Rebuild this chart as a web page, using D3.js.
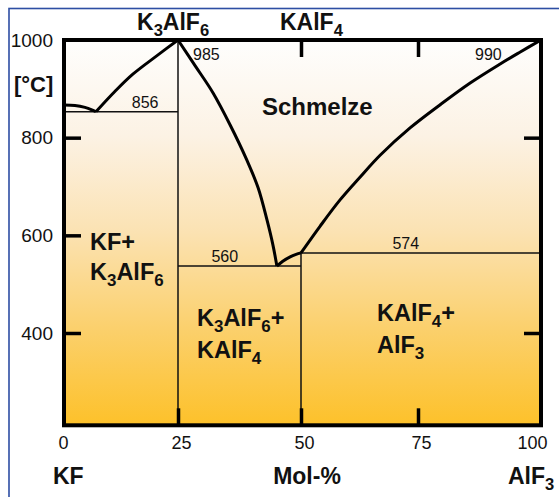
<!DOCTYPE html>
<html><head><meta charset="utf-8">
<script src="https://cdn.jsdelivr.net/npm/d3@7"></script>
<style>body{margin:0;background:#fff} svg{display:block} text{font-family:"Liberation Sans",Arial,Helvetica,sans-serif;fill:#111}</style>
</head><body><svg id="c" width="559" height="497"></svg>
<script>
// ---- data ----
const molTicks = [0, 25, 50, 75, 100];
const tempTicks = [1000, 800, 600, 400];
const tempTicksRight = [800, 400];
const topTicks = [50, 75];
const bottomTicks = [25, 50, 75];
const tMin = 211, tMax = 1000;
const kfArc = [[0, 867], [2.4, 866], [4.6, 862], [6.1, 857], [7, 853]];
const liqK3Left = [[7, 853], [11.2, 895], [15.1, 930], [20.4, 968], [25, 1000]];
const liqK3Right = [[25, 1000], [28.5, 947], [32.1, 892], [35.6, 826], [39, 754], [41.3, 697], [43.1, 631], [44.3, 580], [45.1, 537]];
const liqKAlF4 = [[45.1, 537], [46.3, 547], [47.8, 556], [49, 561], [50, 564]];
const liqAlF3 = [[50, 564], [54.1, 619], [58.3, 672], [62.6, 719], [66.9, 764], [73.3, 820], [79.7, 869], [85.6, 912], [91.7, 951], [95.7, 975], [100, 1000]];
const isotherms = [{t: 853, x0: 0, x1: 25}, {t: 537, x0: 25, x1: 50}, {t: 564, x0: 50, x1: 100}];
const isothermLabels = ["856", "560", "574"];
const compoundLines = [{x: 25, t0: tMin, t1: tMax}, {x: 50, t0: tMin, t1: 564}];
const meltLabels = ["985", "990"];
const compoundNames = ["K_3AlF_6", "KAlF_4"];
const regionNames = ["Schmelze", "KF+", "K_3AlF_6", "K_3AlF_6+", "KAlF_4", "KAlF_4+", "AlF_3"];
const axisNames = ["KF", "Mol-%", "AlF_3", "[°C]"];

(function () {
const svg = d3.select("#c");
const x = d3.scaleLinear().domain([0, 25, 50, 75, 100]).range([64, 178, 301, 418, 541]);
const y = d3.scaleLinear().domain([400, 1000]).range([333, 40]);
const X0 = x(0), X1 = x(100), Y0 = y(tMax), Y1 = y(tMin);

svg.append("rect").attr("x", 9).attr("y", 8.5).attr("width", 700).attr("height", 700)
  .attr("fill", "none").attr("stroke", "#2d4ea3").attr("stroke-width", 1.6);

const defs = svg.append("defs");
const g = defs.append("linearGradient").attr("id", "bg").attr("gradientUnits", "userSpaceOnUse")
  .attr("x1", 0).attr("x2", 0).attr("y1", Y0).attr("y2", Y1);
[[0, "#fefefd"], [0.25, "#fcf2e4"], [0.5, "#fbe2b2"], [0.75, "#fbd06c"], [1, "#fdc12a"]]
  .forEach(([o, c]) => g.append("stop").attr("offset", o).attr("stop-color", c));
svg.append("rect").attr("x", X0).attr("y", Y0).attr("width", X1 - X0).attr("height", Y1 - Y0).attr("fill", "url(#bg)");

svg.selectAll(".iso").data(isotherms).join("line")
  .attr("x1", d => x(d.x0)).attr("x2", d => x(d.x1)).attr("y1", d => y(d.t)).attr("y2", d => y(d.t))
  .attr("stroke", "#111").attr("stroke-width", 1.5);
svg.selectAll(".cmp").data(compoundLines).join("line")
  .attr("x1", d => x(d.x)).attr("x2", d => x(d.x)).attr("y1", d => y(d.t0)).attr("y2", d => y(d.t1))
  .attr("stroke", "#111").attr("stroke-width", 1.5);

const line = d3.line().x(d => x(d[0])).y(d => y(d[1])).curve(d3.curveCatmullRom.alpha(0.5));
[kfArc, liqK3Left, liqK3Right, liqKAlF4, liqAlF3].forEach(arr =>
  svg.append("path").attr("d", line(arr)).attr("fill", "none").attr("stroke", "#000")
    .attr("stroke-width", 3).attr("stroke-linejoin", "round"));

svg.append("rect").attr("x", X0).attr("y", Y0).attr("width", X1 - X0).attr("height", Y1 - Y0)
  .attr("fill", "none").attr("stroke", "#000").attr("stroke-width", 4);

function styleAxis(sel) {
  sel.select(".domain").remove();
  sel.selectAll(".tick line").attr("stroke", "#000").attr("stroke-width", 3.5);
  sel.selectAll(".tick text").attr("font-family", "Liberation Sans, Arial, sans-serif").attr("fill", "#111");
}
const leftAx = svg.append("g").attr("transform", `translate(${X0},0)`)
  .call(d3.axisLeft(y).tickValues(tempTicks).tickFormat(d3.format("d")).tickSize(-17).tickPadding(11).tickSizeOuter(0));
styleAxis(leftAx);
leftAx.selectAll(".tick text").attr("font-size", 19);
leftAx.selectAll(".tick line").filter(d => d === 1000).remove();
const rightAx = svg.append("g").attr("transform", `translate(${X1},0)`)
  .call(d3.axisRight(y).tickValues(tempTicksRight).tickSize(-17).tickFormat("").tickSizeOuter(0));
styleAxis(rightAx);
const topAx = svg.append("g").attr("transform", `translate(0,${Y0})`)
  .call(d3.axisTop(x).tickValues(topTicks).tickSize(-17).tickFormat("").tickSizeOuter(0));
styleAxis(topAx);
const bottomTickG = svg.append("g").attr("transform", `translate(0,${Y1})`)
  .call(d3.axisBottom(x).tickValues(bottomTicks).tickSize(-17).tickFormat("").tickSizeOuter(0));
styleAxis(bottomTickG);
const bottomLab = svg.append("g").attr("transform", `translate(0,${Y1})`)
  .call(d3.axisBottom(x).tickValues(molTicks).tickSize(0).tickPadding(11).tickSizeOuter(0));
styleAxis(bottomLab);
bottomLab.selectAll(".tick text").attr("font-size", 18)
  .attr("dx", d => d === 100 ? -9 : (d === 0 ? -1 : 3));

function chem(xp, yp, str, fs, bold, anchor) {
  const t = svg.append("text").attr("x", xp).attr("y", yp).attr("font-size", fs)
    .attr("font-weight", bold ? "bold" : "normal").attr("text-anchor", anchor || "start");
  const parts = str.split(/_(\d)/);
  parts.forEach((p, i) => {
    if (p === "") return;
    const ts = t.append("tspan").text(p);
    if (i % 2 === 1) ts.attr("font-size", fs * 0.72).attr("dy", fs * 0.27);
    else if (i > 0) ts.attr("dy", -fs * 0.27);
  });
  return t;
}

chem(x(25) - 41, 30, compoundNames[0], 23, true);
chem(x(50) - 21, 30, compoundNames[1], 23, true);

chem(x(17.8), y(853) - 4, isothermLabels[0], 16, false, "middle");
chem(x(34.5), y(537) - 4, isothermLabels[1], 16, false, "middle");
chem(x(72.4), y(564) - 4, isothermLabels[2], 16, false, "middle");
chem(x(25) + 15, 60, meltLabels[0], 16, false);
chem(x(100) - 66, 60, meltLabels[1], 16, false);

chem(262, 115, regionNames[0], 24, true);
chem(90, 250, regionNames[1], 23.5, true);
chem(90, 280, regionNames[2], 23.5, true);
chem(197, 326, regionNames[3], 23.5, true);
chem(197, 358, regionNames[4], 23.5, true);
chem(377, 321, regionNames[5], 23.5, true);
chem(377, 353, regionNames[6], 23.5, true);

chem(53, 484, axisNames[0], 23, true);
chem(307, 484, axisNames[1], 23, true, "middle");
chem(508, 484, axisNames[2], 23, true);
chem(14, 92, axisNames[3], 22, true);
})();
</script></body></html>
